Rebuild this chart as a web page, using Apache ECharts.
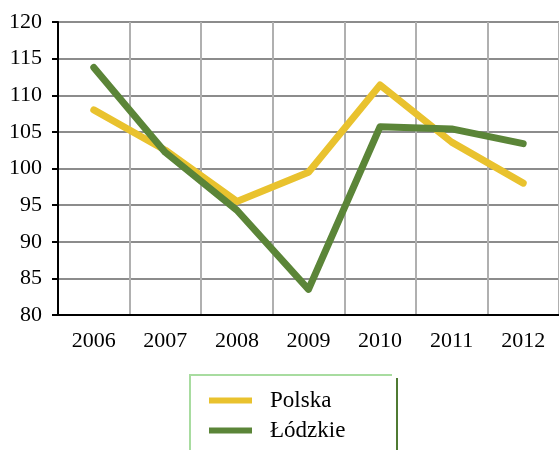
<!DOCTYPE html>
<html>
<head>
<meta charset="utf-8">
<script src="https://cdn.jsdelivr.net/npm/echarts@6/dist/echarts.min.js"></script>
<style>
  html, body { margin: 0; padding: 0; background: #fff; }
  #chart { width: 559px; height: 450px; }
</style>
</head>
<body>
<div id="chart"></div>
<script>
// Years on the category axis
var years = ['2006', '2007', '2008', '2009', '2010', '2011', '2012'];
// Index values per region
var polska = [108.0, 102.5, 95.5, 99.5, 111.4, 103.6, 98.0];
var lodzkie = [113.8, 102.2, 94.3, 83.5, 105.7, 105.4, 103.4];
// Value axis range
var yMin = 80, yMax = 120, yStep = 5;

var chart = echarts.init(document.getElementById('chart'));
var font = 'Liberation Serif';

chart.setOption({
  animation: false,
  textStyle: { fontFamily: font },
  grid: { left: 58, right: -4, top: 22, bottom: 135 },
  xAxis: {
    type: 'category',
    data: years,
    boundaryGap: true,
    axisLine: { show: true, lineStyle: { color: '#000', width: 2 } },
    axisTick: { show: false },
    axisLabel: { color: '#000', fontSize: 22, fontFamily: font, margin: 15 },
    splitLine: { show: true, interval: 0, lineStyle: { color: '#b0b0b0', width: 2 } }
  },
  yAxis: {
    type: 'value',
    min: yMin, max: yMax, interval: yStep,
    axisLine: { show: true, lineStyle: { color: '#000', width: 2 } },
    axisTick: { show: true, length: 6, lineStyle: { color: '#000', width: 2 } },
    axisLabel: { color: '#000', fontSize: 22, fontFamily: font, margin: 16 },
    splitLine: { show: true, lineStyle: { color: '#8c8c8c', width: 2 } }
  },
  legend: {
    orient: 'vertical',
    left: 209, top: 389,
    padding: 0,
    itemWidth: 43, itemHeight: 6, itemGap: 7,
    icon: 'rect',
    textStyle: { color: '#000', fontSize: 23, lineHeight: 23, fontFamily: font, padding: [0, 0, 0, 13] },
    data: ['Polska', 'Łódzkie']
  },
  graphic: [
    {
      type: 'polyline',
      shape: { points: [[190, 452], [190, 375], [392, 375]] },
      style: { stroke: '#a8dca0', lineWidth: 2, fill: null }
    },
    {
      type: 'line',
      shape: { x1: 397, y1: 378, x2: 397, y2: 452 },
      style: { stroke: '#4f7a33', lineWidth: 2 }
    }
  ],
  series: [
    {
      name: 'Polska', type: 'line', data: polska,
      symbol: 'none',
      color: '#E9C22E',
      lineStyle: { width: 7, color: '#E9C22E', cap: 'round', join: 'round' }
    },
    {
      name: 'Łódzkie', type: 'line', data: lodzkie,
      symbol: 'none',
      color: '#5B8538',
      lineStyle: { width: 7, color: '#5B8538', cap: 'round', join: 'round' }
    }
  ]
});
</script>
</body>
</html>
